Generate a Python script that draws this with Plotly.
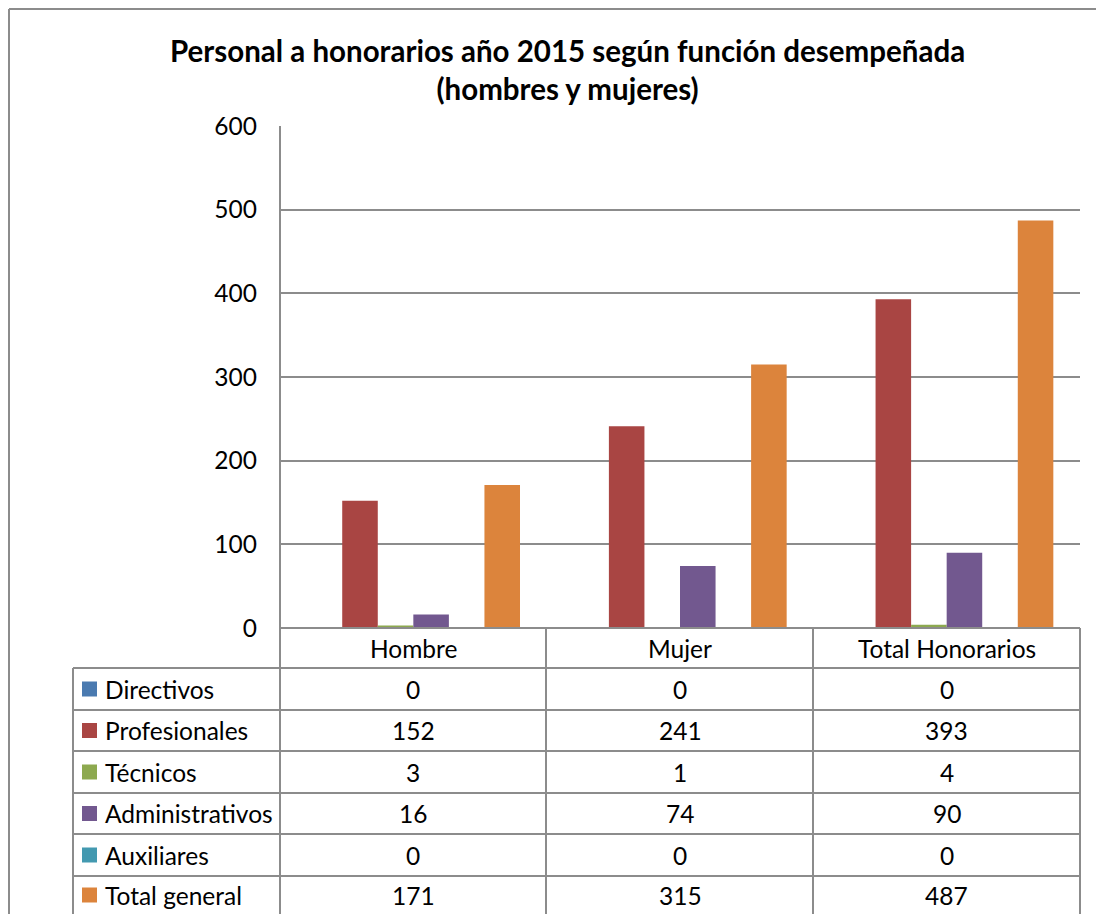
import plotly.graph_objects as go

categories = ["Hombre", "Mujer", "Total Honorarios"]
series_names = ["Directivos", "Profesionales", "Técnicos", "Administrativos", "Auxiliares", "Total general"]
directivos = [0, 0, 0]
profesionales = [152, 241, 393]
tecnicos = [3, 1, 4]
administrativos = [16, 74, 90]
auxiliares = [0, 0, 0]
total_general = [171, 315, 487]
y_ticks = [0, 100, 200, 300, 400, 500, 600]

series_values = [directivos, profesionales, tecnicos, administrativos, auxiliares, total_general]
colors = ["#4A7AB0", "#A94543", "#8DA94F", "#72588F", "#4399B0", "#DC843C"]

FONT = "Lato"
GRID = "#8C8C8C"
TXT = 24.5

# plot area in page pixels
L, R, T, B = 280, 1080, 126, 628


def px(x):
    return (x - L) / (R - L)


def py(y):
    return (B - y) / (B - T)


fig = go.Figure()
for name, vals, col in zip(series_names, series_values, colors):
    fig.add_trace(go.Bar(x=categories, y=vals, name=name, marker_color=col,
                         marker_line_width=0))

fig.update_layout(
    width=1096, height=914,
    margin=dict(l=L, r=1096 - R, t=T, b=914 - B, pad=0),
    paper_bgcolor="white", plot_bgcolor="white",
    barmode="group", bargap=0.2, bargroupgap=0,
    showlegend=False,
    font=dict(family=FONT, size=TXT, color="black"),
)
fig.update_yaxes(range=[0, 600], tickvals=y_ticks, showgrid=True, gridcolor=GRID, gridwidth=2,
                 zeroline=False, showline=False, ticks="", ticklabelstandoff=22,
                 tickfont=dict(size=TXT))
fig.update_xaxes(showticklabels=False, showgrid=False, zeroline=False, showline=False)

shapes = []


def line(x0, y0, x1, y1, w=2, c=GRID):
    shapes.append(dict(type="line", xref="paper", yref="paper",
                       x0=px(x0), y0=py(y0), x1=px(x1), y1=py(y1),
                       line=dict(color=c, width=w), layer="above"))


# outer chart border
line(9, 9, 1100, 9)
line(9, 9, 9, 920)

# axis + table grid
line(L, T, L, 920)
line(L, B, R, B)
rows = [668, 710, 751, 793, 834, 876]
for y in rows:
    line(73, y, R, y)
line(73, 668, 73, 920)
for x in [546, 813, R]:
    line(x, B, x, 920)

annotations = []
annotations.append(dict(text="<b>Personal a honorarios año 2015 según función desempeñada<br>(hombres y mujeres)</b>",
                        xref="paper", yref="paper", x=px(567), y=py(69), xanchor="center", yanchor="middle",
                        showarrow=False, font=dict(size=29.5, family=FONT, color="black")))

for c in categories:
    annotations.append(dict(text=c, xref="x", yref="paper", x=c, y=py(648),
                            xanchor="center", yanchor="middle", showarrow=False))

row_centers = [689, 730.5, 772, 813.5, 855, 895]
for name, vals, col, yc in zip(series_names, series_values, colors, row_centers):
    shapes.append(dict(type="rect", xref="paper", yref="paper",
                       x0=px(82), x1=px(97), y0=py(yc - 7.5), y1=py(yc + 7.5),
                       fillcolor=col, line=dict(width=0)))
    annotations.append(dict(text=name, xref="paper", yref="paper", x=px(103), y=py(yc),
                            xanchor="left", yanchor="middle", showarrow=False))
    for c, v in zip(categories, vals):
        annotations.append(dict(text=str(v), xref="x", yref="paper", x=c, y=py(yc),
                                xanchor="center", yanchor="middle", showarrow=False))

fig.update_layout(shapes=shapes, annotations=annotations)
fig.write_html("out.html", config={"displayModeBar": False},
               post_script="document.body.style.margin='0';")
